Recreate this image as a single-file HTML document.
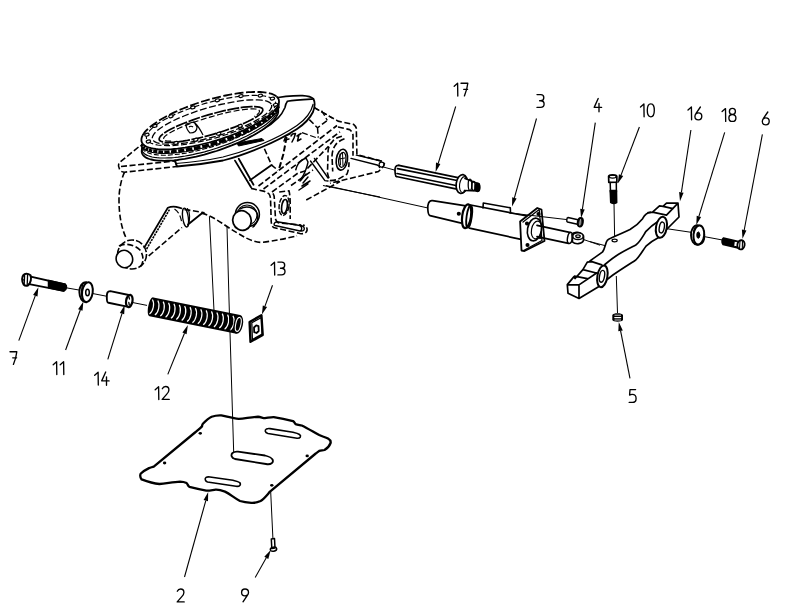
<!DOCTYPE html>
<html><head><meta charset="utf-8"><style>html,body{margin:0;padding:0;background:#fff;width:800px;height:612px;overflow:hidden}svg{display:block}</style></head>
<body><svg width="800" height="612" viewBox="0 0 800 612">
<rect width="800" height="612" fill="#fff"/>
<path fill="none" stroke="#000" stroke-width="1.6" stroke-dasharray="6 2.6" stroke-linejoin="round" d="M138.5,147 L119,163 C118,165 118.5,168 120,170 C121,171.5 122,172 124.5,172.2 L177,166.5"/>
<path fill="none" stroke="#000" stroke-width="1.6" stroke-dasharray="6 2.6" stroke-linejoin="round" d="M121,166.5 L175,161"/>
<path fill="none" stroke="#000" stroke-width="1.6" stroke-dasharray="6 2.6" stroke-linejoin="round" d="M124.5,172.2 C121,180 119,190 119,200 C119,215 121.5,228 125.7,237"/>
<circle cx="132" cy="254.5" r="14.5" fill="none" stroke="#000" stroke-width="1.6" stroke-dasharray="7 2" stroke-linejoin="round"/>
<path fill="none" stroke="#000" stroke-width="1.6" stroke-dasharray="6 2.6" stroke-linejoin="round" d="M119,246 C124,243 134,244 140,250 C144,256 144,263 140,267"/>
<ellipse cx="124.4" cy="259" rx="8.2" ry="8.8" transform="rotate(-20 124.4 259)" fill="#fff" stroke="#000" stroke-width="1.6"/>
<path fill="none" stroke="#000" stroke-width="1.7" stroke-linejoin="round" stroke-linecap="round" d="M144.3,247.5 L167.8,207.8 C171,206.5 174,206.5 176.2,206.9"/>
<path fill="none" stroke="#000" stroke-width="1.6" stroke-linejoin="round" stroke-linecap="butt" stroke-dasharray="2.2 0.9" d="M146.6,249 L169.5,209.5"/>
<path fill="none" stroke="#000" stroke-width="1.6" stroke-dasharray="6 2.6" stroke-linejoin="round" d="M148.7,255.9 L182,227.5"/>
<path fill="none" stroke="#000" stroke-width="1.6" stroke-dasharray="6 2.6" stroke-linejoin="round" d="M176.2,206.9 C179,207.5 181.5,208.3 184,209.3 L204.6,212.7"/>
<path fill="none" stroke="#000" stroke-width="1.2" stroke-dasharray="6 2.6" stroke-linejoin="round" d="M174.5,209 C179,212 181,217 182,224"/>
<ellipse cx="185.5" cy="217.6" rx="2.8" ry="9.5" transform="rotate(-8 185.5 217.6)" fill="none" stroke="#000" stroke-width="1.3"/>
<path fill="none" stroke="#000" stroke-width="1.1" stroke-linejoin="round" stroke-linecap="round" d="M187.5,208.5 C190,212 190.5,220 188,226"/>
<path fill="none" stroke="#000" stroke-width="1.8" stroke-linejoin="round" stroke-linecap="round" d="M188,224.5 L202.6,212.7"/>
<path fill="none" stroke="#000" stroke-width="1.6" stroke-dasharray="6 2.6" stroke-linejoin="round" d="M201.5,213.1 C210,215 217,220 224,224.5 C232,230 239,234 245.3,237.6 C250,240 255,242 261,242.4 C275,241 288,238 297,235.8"/>
<circle cx="247.4" cy="214.5" r="12" fill="none" stroke="#000" stroke-width="1.5"/>
<circle cx="247" cy="215" r="10" fill="none" stroke="#000" stroke-width="1.1"/>
<path fill="none" stroke="#000" stroke-width="1.5" stroke-linejoin="round" stroke-linecap="round" d="M240,209 C246,205 254,207 257,213 C259,218 257,224 253,227"/>
<ellipse cx="242" cy="220.5" rx="9.2" ry="10" transform="rotate(-20 242 220.5)" fill="#fff" stroke="#000" stroke-width="1.7"/>
<path fill="none" stroke="#000" stroke-width="1.8" stroke-linejoin="round" stroke-linecap="round" d="M235,160.6 L251,187.2 M238.75,158.75 L253.5,184.7 M250,180.2 L271.6,165.1"/>
<path fill="none" stroke="#000" stroke-width="1.6" stroke-dasharray="6 2.6" stroke-linejoin="round" d="M264.4,148.8 L271.6,165.1 L278.1,170.4"/>
<path fill="none" stroke="#000" stroke-width="2" stroke-dasharray="6 2.6" stroke-linejoin="round" d="M286.6,137 L283.4,154 L278.8,169.7"/>
<path fill="none" stroke="#000" stroke-width="1.6" stroke-dasharray="6 2.6" stroke-linejoin="round" d="M251,188.4 L264.5,191.4 C267,192.5 269,193.5 269.4,194.5 C270.5,197 270.6,199 270.6,200.6 L271.2,221.5 C271.5,224 272,226 273.5,227.5 L300,233.5 C303.5,234.2 306.5,233 307,230.5 C307.5,228 306,226 303,225"/>
<path fill="none" stroke="#000" stroke-width="1.6" stroke-dasharray="6 2.6" stroke-linejoin="round" d="M273,193.3 C274,195 274.3,196.5 274.3,198.2 L275.5,219 C276,221 277,222 278,222.7 L301.3,225.1"/>
<path fill="none" stroke="#000" stroke-width="1.6" stroke-dasharray="6 2.6" stroke-linejoin="round" d="M279.2,192 L289,190.8 C290,195 290.2,200 290.2,205 L290.2,219"/>
<path fill="none" stroke="#000" stroke-width="1.4" stroke-linejoin="round" stroke-linecap="round" d="M277,221.8 L301.5,225.8 C304,226.3 305,228.5 303.8,230.2 C303,231 301.5,231.3 300,231 L275,225.5 C273.5,225 273.5,222.5 277,221.8 M299.5,225.5 C302,226.5 302.5,229 300.5,231"/>
<ellipse cx="284.1" cy="205.5" rx="4.9" ry="10" transform="rotate(8 284.1 205.5)" fill="none" stroke="#000" stroke-width="1.4" stroke-dasharray="5 1.5"/>
<ellipse cx="284.5" cy="206.5" rx="2.8" ry="7" transform="rotate(8 284.5 206.5)" fill="none" stroke="#000" stroke-width="1.6"/>
<path fill="none" stroke="#000" stroke-width="1.5" stroke-linejoin="round" stroke-linecap="round" d="M284,141 L286,135.5 L290,134 M285,140 L289,139 M291,136 L292.5,134 L295.5,133.5 L294,138 L292,142 M297,136 L301,133.5 M299,134.5 L297.5,141 L301,139"/>
<path fill="none" stroke="#000" stroke-width="1.3" stroke-dasharray="6 2.6" stroke-linejoin="round" d="M302,132.7 L309.3,135.2 L318.3,138.4"/>
<path fill="none" stroke="#000" stroke-width="1.5" stroke-dasharray="6 2.6" stroke-linejoin="round" d="M309.3,119.6 L317.5,127.8 L327.3,120.4 M317.5,127.8 L318.3,137.6"/>
<path fill="none" stroke="#000" stroke-width="1.3" stroke-dasharray="6 2.6" stroke-linejoin="round" d="M314.2,107.4 L332.2,118 M321.6,110.6 L327.3,120.4"/>
<path fill="none" stroke="#000" stroke-width="1.5" stroke-linejoin="round" stroke-linecap="round" d="M295.8,169.7 C297,165 299,162 302,160 L306,158 L308,162 C307,168 305,172 303,176 L300,181"/>
<path fill="none" stroke="#000" stroke-width="1.5" stroke-linejoin="round" stroke-linecap="round" d="M301,180 L306,174 M303,183 L308,177 M302,186 L310,181 M299,190 L308,184"/>
<path fill="none" stroke="#000" stroke-width="1.6" stroke-dasharray="6 2.6" stroke-linejoin="round" d="M258.5,186 L337,125.5"/>
<path fill="none" stroke="#000" stroke-width="1.6" stroke-dasharray="6 2.6" stroke-linejoin="round" d="M263.5,189 L340,131.8"/>
<path fill="none" stroke="#000" stroke-width="1.6" stroke-dasharray="6 2.6" stroke-linejoin="round" d="M272,192 L298,173 L305,171 L328.5,146.2"/>
<path fill="none" stroke="#000" stroke-width="1.6" stroke-dasharray="6 2.6" stroke-linejoin="round" d="M291,185.5 L313,170"/>
<path fill="none" stroke="#000" stroke-width="1.6" stroke-dasharray="6 2.6" stroke-linejoin="round" d="M306.25,200 L340,181.5"/>
<path fill="none" stroke="#000" stroke-width="1.1" d="M323,185.5 L380,197"/>
<path fill="none" stroke="#000" stroke-width="1.6" stroke-dasharray="6 2.6" stroke-linejoin="round" d="M313.7,107.4 L338,121.1 L353.6,124.4 C355,125.5 356,127 356.3,128.3 L356.9,154.5 L381.1,161 C383,162 384.2,163 384.4,163.6 C384,165.5 383.5,166.5 382.4,167.6 L378.5,171.5 L330,183.3"/>
<path fill="none" stroke="#000" stroke-width="1.6" stroke-dasharray="6 2.6" stroke-linejoin="round" d="M338,127 L349.7,129.6 C351.5,131 352.5,133 353,134.9 L353,155.8"/>
<path fill="none" stroke="#000" stroke-width="1.4" stroke-linejoin="round" stroke-linecap="round" d="M351,158.4 L377.2,165 C378.5,165.5 379.5,166.5 379.5,167.5 M356.3,155.1 L381.1,161"/>
<path fill="none" stroke="#000" stroke-width="1.6" stroke-dasharray="6 2.6" stroke-linejoin="round" d="M341.9,136.2 C337,137.5 334,139 332.7,141.4 C330,144 328.5,147 328.1,150.6 L327.5,172.8 C328,176 329,178.5 330,180.6 C333,180.5 336,180 338,179.3 L347,174.1 C348.5,170 349,166 349,162.3"/>
<path fill="none" stroke="#000" stroke-width="1.6" stroke-dasharray="6 2.6" stroke-linejoin="round" d="M344.5,138.8 C340,140.5 337,142.5 335.3,145.3 C333,148.5 332.3,152 332,155.8 L332.7,171.5"/>
<path fill="none" stroke="#000" stroke-width="1.4" stroke-linejoin="round" stroke-linecap="round" d="M310.5,161 L324.9,180.6 L328,181 M314.4,158.4 L328.1,178"/>
<ellipse cx="341.9" cy="159.7" rx="5.6" ry="10.5" transform="rotate(8 341.9 159.7)" fill="#fff" stroke="#000" stroke-width="1.6"/>
<ellipse cx="342.3" cy="159.9" rx="3.6" ry="7.5" transform="rotate(8 342.3 159.9)" fill="none" stroke="#000" stroke-width="1.3"/>
<path fill="none" stroke="#000" stroke-width="1" stroke-linejoin="round" stroke-linecap="round" d="M340,154 L340.5,165 M342.5,153 L343,166 M339,159 L345,158"/>
<circle cx="381.6" cy="164.6" r="2.5" fill="none" stroke="#000" stroke-width="1.2"/>
<path d="M270,99 C280,97 292,95.5 302.5,95.7 C308,96 311.5,97 313.5,99 C315,102 314.5,108 313,112 C309,120 303,125 297,129 C286,136 274,142 262,147 C250,152 237,157 223,160.5 C207,163.5 190,165.5 177,166.5 L175,161 L200,150 L250,120 Z" fill="#fff" stroke="#000" stroke-width="1.8" stroke-linejoin="round"/>
<path d="M313.2,104 C311,113 305,120 297,125.5 C286,133 274,139 262,144 C250,149 237,153.5 223,157 C207,160.5 195,162 176,163.5" fill="none" stroke="#000" stroke-width="1.2"/>
<path d="M313.5,99 C305,99.5 295,100 287.4,101.3 C285.5,104 285.3,106 285,107.5 C283,112 281,115 278.4,117.6 C274,122 269,126 263.75,128.9 C255,134 246,139 237,143" fill="none" stroke="#000" stroke-width="1.6"/>
<path d="M237,143 L262,138.5 L264,140.5 L238.5,146 Z" fill="#000" stroke="#000" stroke-width="1"/>
<path d="M175,161 L177,166.5" fill="none" stroke="#000" stroke-width="1.5"/>
<path d="M275.2,105.2 L276.3,106.2 L277.1,107.2 L277.8,108.3 L278.2,109.5 L278.3,110.7 L278.2,112.1 L277.9,113.5 L277.3,114.9 L276.5,116.4 L275.5,118.0 L274.2,119.6 L272.7,121.3 L271.0,122.9 L269.1,124.7 L266.9,126.4 L264.6,128.2 L262.1,129.9 L259.3,131.7 L256.5,133.4 L253.4,135.2 L250.2,136.9 L246.9,138.7 L243.4,140.4 L239.8,142.0 L236.1,143.6 L232.3,145.2 L228.4,146.7 L224.5,148.2 L220.5,149.6 L216.5,151.0 L212.4,152.2 L208.4,153.4 L204.3,154.6 L200.3,155.6 L196.3,156.6 L192.4,157.4 L188.5,158.2 L184.7,158.9 L181.0,159.4 L177.4,159.9 L173.9,160.3 L170.5,160.6 L167.2,160.7 L164.2,160.8 L161.2,160.7 L158.5,160.6 L155.9,160.3 L153.5,160.0 L151.4,159.5 L149.4,159.0 L147.6,158.3 L146.1,157.6 L144.8,156.7 L143.7,155.8 L142.8,154.8 L142.2,153.6 L141.8,152.5 L141.7,151.2 L141.8,149.9 L142.1,148.5 Z" fill="#fff" stroke="none"/>
<path d="M275.2,105.2 L276.3,106.2 L277.1,107.2 L277.8,108.3 L278.2,109.5 L278.3,110.7 L278.2,112.1 L277.9,113.5 L277.3,114.9 L276.5,116.4 L275.5,118.0 L274.2,119.6 L272.7,121.3 L271.0,122.9 L269.1,124.7 L266.9,126.4 L264.6,128.2 L262.1,129.9 L259.3,131.7 L256.5,133.4 L253.4,135.2 L250.2,136.9 L246.9,138.7 L243.4,140.4 L239.8,142.0 L236.1,143.6 L232.3,145.2 L228.4,146.7 L224.5,148.2 L220.5,149.6 L216.5,151.0 L212.4,152.2 L208.4,153.4 L204.3,154.6 L200.3,155.6 L196.3,156.6 L192.4,157.4 L188.5,158.2 L184.7,158.9 L181.0,159.4 L177.4,159.9 L173.9,160.3 L170.5,160.6 L167.2,160.7 L164.2,160.8 L161.2,160.7 L158.5,160.6 L155.9,160.3 L153.5,160.0 L151.4,159.5 L149.4,159.0 L147.6,158.3 L146.1,157.6 L144.8,156.7 L143.7,155.8 L142.8,154.8 L142.2,153.6 L141.8,152.5 L141.7,151.2 L141.8,149.9 L142.1,148.5" fill="none" stroke="#000" stroke-width="1.8"/>
<path d="M275.8,103.0 L276.8,104.0 L277.5,105.0 L278.0,106.2 L278.3,107.4 L278.3,108.6 L278.1,110.0 L277.7,111.4 L277.0,112.8 L276.1,114.3 L275.0,115.9 L273.7,117.5 L272.1,119.1 L270.4,120.8 L268.4,122.5 L266.3,124.2 L263.9,125.9 L261.4,127.6 L258.7,129.3 L255.8,131.1 L252.8,132.8 L249.6,134.5 L246.3,136.2 L242.9,137.8 L239.4,139.5 L235.7,141.0 L232.0,142.6 L228.2,144.1 L224.3,145.5 L220.4,146.9 L216.5,148.2 L212.5,149.5 L208.6,150.7 L204.6,151.8 L200.6,152.8 L196.7,153.7 L192.8,154.6 L189.0,155.3 L185.3,156.0 L181.6,156.6 L178.1,157.1 L174.6,157.5 L171.3,157.8 L168.1,157.9 L165.0,158.0 L162.1,158.0 L159.3,157.9 L156.8,157.7 L154.4,157.4 L152.1,157.0 L150.1,156.4 L148.3,155.8 L146.7,155.1 L145.3,154.4 L144.2,153.5 L143.2,152.5 L142.5,151.5 L142.0,150.3 L141.7,149.1 L141.7,147.9 L141.9,146.5" fill="none" stroke="#000" stroke-width="1.2"/>
<path d="M276.4,100.7 L277.2,101.7 L277.8,102.8 L278.2,103.9 L278.3,105.2 L278.2,106.4 L277.9,107.8 L277.4,109.2 L276.6,110.6 L275.7,112.1 L274.5,113.7 L273.1,115.2 L271.5,116.8 L269.7,118.5 L267.8,120.1 L265.6,121.8 L263.2,123.5 L260.7,125.2 L258.0,126.9 L255.2,128.6 L252.2,130.3 L249.0,132.0 L245.8,133.6 L242.4,135.2 L238.9,136.8 L235.4,138.4 L231.7,139.9 L228.0,141.3 L224.2,142.7 L220.4,144.1 L216.5,145.4 L212.6,146.6 L208.7,147.8 L204.8,148.8 L200.9,149.9 L197.1,150.8 L193.3,151.6 L189.6,152.4 L185.9,153.1 L182.3,153.6 L178.8,154.1 L175.3,154.5 L172.1,154.8 L168.9,155.1 L165.8,155.2 L162.9,155.2 L160.2,155.1 L157.6,154.9 L155.2,154.6 L153.0,154.3 L150.9,153.8 L149.1,153.3 L147.4,152.6 L145.9,151.9 L144.7,151.1 L143.7,150.2 L142.8,149.2 L142.2,148.1 L141.9,147.0 L141.7,145.8 L141.8,144.5" fill="none" stroke="#000" stroke-width="1.1" stroke-dasharray="5 2"/>
<path d="M278.5,106.2 L278.2,106.8 L278.0,107.4 L277.7,108.0 L277.3,108.6 M276.9,109.3 L276.5,109.9 L276.1,110.5 L275.6,111.2 L275.0,111.8 M274.4,112.5 L273.8,113.2 L273.2,113.8 L272.5,114.5 L271.7,115.2 M271.0,115.9 L270.1,116.6 L269.3,117.3 L268.4,118.0 L267.5,118.7 M266.6,119.4 L265.6,120.1 L264.6,120.8 L263.5,121.5 L262.5,122.2 M261.3,122.9 L260.2,123.6 L259.0,124.4 L257.8,125.1 L256.6,125.8 M255.3,126.5 L254.1,127.2 L252.8,127.9 L251.4,128.6 L250.1,129.3 M248.7,130.0 L247.3,130.7 L245.8,131.3 L244.4,132.0 L242.9,132.7 M241.4,133.4 L239.9,134.0 L238.4,134.7 L236.9,135.3 L235.3,136.0 M233.7,136.6 L232.1,137.2 L230.5,137.8 L228.9,138.4 L227.3,139.0 M225.6,139.6 L224.0,140.2 L222.4,140.8 L220.7,141.3 L219.0,141.9 M217.3,142.4 L215.7,142.9 L214.0,143.4 L212.3,143.9 L210.6,144.4 M208.9,144.9 L207.3,145.3 L205.6,145.8 L203.9,146.2 L202.2,146.6 M200.5,147.0 L198.9,147.4 L197.2,147.8 L195.6,148.2 L193.9,148.5 M192.3,148.8 L190.7,149.2 L189.1,149.5 L187.5,149.7 L185.9,150.0 M184.3,150.3 L182.7,150.5 L181.2,150.7 L179.7,150.9 L178.2,151.1 M176.7,151.3 L175.2,151.4 L173.8,151.5 L172.4,151.7 L171.0,151.8 M169.6,151.8 L168.2,151.9 L166.9,152.0 L165.6,152.0 L164.3,152.0 M163.1,152.0 L161.9,152.0 L160.7,151.9 L159.5,151.9 L158.4,151.8 M157.3,151.7 L156.2,151.6 L155.2,151.5 L154.2,151.3 L153.2,151.2 M152.2,151.0 L151.3,150.8 L150.5,150.6 L149.6,150.4 L148.8,150.1 M148.1,149.9 L147.4,149.6 L146.7,149.3 L146.0,149.0 L145.4,148.7 M144.8,148.3 L144.3,148.0 L143.8,147.6 L143.4,147.2 L143.0,146.8 M142.6,146.4 L142.2,146.0 L142.0,145.6 L141.7,145.1 L141.5,144.6" fill="none" stroke="#000" stroke-width="3.2"/>
<path d="M278.0,102.1 L278.5,103.1 L278.9,104.2 L279.0,105.3 L279.0,106.6 L278.7,107.8 L278.2,109.1 L277.5,110.5 L276.6,111.9 L275.5,113.3 L274.2,114.8 L272.7,116.3 L271.0,117.8 L269.1,119.4 L267.1,121.0 L264.8,122.6 L262.4,124.1 L259.9,125.7 L257.2,127.3 L254.3,128.9 L251.3,130.5 L248.2,132.0 L245.0,133.5 L241.6,135.0 L238.2,136.5 L234.7,137.9 L231.1,139.3 L227.5,140.7 L223.7,142.0 L220.0,143.2 L216.2,144.4 L212.4,145.5 L208.6,146.6 L204.8,147.6 L201.0,148.5 L197.3,149.4 L193.6,150.2 L189.9,150.9 L186.3,151.5 L182.8,152.0 L179.3,152.5 L176.0,152.8 L172.7,153.1 L169.6,153.3 L166.6,153.4 L163.7,153.5 L161.0,153.4 L158.4,153.2 L156.0,153.0 L153.7,152.7 L151.6,152.3 L149.7,151.8 L148.0,151.2 L146.5,150.5 L145.1,149.8 L144.0,149.0 L143.0,148.1 L142.3,147.1 L141.8,146.1 L141.5,145.0 L141.4,143.9" fill="none" stroke="#000" stroke-width="1.1"/>
<path d="M278.8,99.7 L279.0,101.9 L278.5,104.3 L277.3,106.9 L275.3,109.6 L272.6,112.4 L269.2,115.3 L265.2,118.3 L260.6,121.3 L255.4,124.3 L249.7,127.3 L243.6,130.2 L237.1,133.0 L230.3,135.6 L223.4,138.1 L216.2,140.4 L209.0,142.5 L201.8,144.3 L194.7,145.9 L187.8,147.2 L181.1,148.2 L174.8,149.0 L168.8,149.4 L163.3,149.5 L158.3,149.2 L153.8,148.7 L150.0,147.9 L146.9,146.7 L144.4,145.3 L142.6,143.6 L141.6,141.7 L141.4,139.5 L141.9,137.1 L143.1,134.5 L145.1,131.8 L147.8,129.0 L151.2,126.1 L155.2,123.1 L159.8,120.1 L165.0,117.1 L170.7,114.1 L176.8,111.2 L183.3,108.4 L190.1,105.8 L197.0,103.3 L204.2,101.0 L211.4,98.9 L218.6,97.1 L225.7,95.5 L232.6,94.2 L239.3,93.2 L245.6,92.4 L251.6,92.0 L257.1,91.9 L262.1,92.2 L266.6,92.7 L270.4,93.5 L273.5,94.7 L276.0,96.1 L277.8,97.8 L278.8,99.7 Z" fill="#fff" stroke="none"/>
<path d="M276.7,96.6 L277.6,97.6 L278.3,98.7 L278.8,99.8 L279.0,101.0 L279.0,102.3 L278.7,103.7 L278.2,105.1 L277.4,106.6 L276.5,108.1 L275.2,109.6 L273.8,111.2 L272.1,112.9 L270.2,114.5 L268.0,116.2 L265.7,117.9 L263.2,119.6 L260.5,121.4 L257.6,123.1 L254.5,124.8 L251.3,126.5 L248.0,128.1 L244.5,129.8 L240.8,131.4 L237.1,133.0 L233.3,134.5 L229.4,136.0 L225.4,137.4 L221.4,138.8 L217.3,140.1 L213.2,141.3 L209.1,142.5 L205.0,143.5 L200.9,144.5 L196.9,145.5 L192.9,146.3 L189.0,147.0 L185.1,147.7 L181.3,148.2 L177.6,148.7 L174.1,149.0 L170.7,149.3 L167.4,149.4 L164.2,149.5 L161.3,149.4 L158.5,149.3 L155.9,149.0 L153.4,148.6 L151.2,148.2 L149.2,147.6 L147.4,147.0 L145.8,146.2 L144.5,145.4 L143.4,144.5 L142.5,143.5 L141.9,142.4 L141.5,141.2 L141.4,140.0 L141.5,138.7 L141.8,137.3 L142.4,135.9" fill="none" stroke="#000" stroke-width="1.8"/>
<path d="M142.4,135.9 L143.0,134.7 L143.8,133.6 L144.6,132.4 L145.6,131.2 L146.8,130.0 L148.1,128.8 L149.5,127.5 L151.0,126.2 L152.6,125.0 L154.4,123.7 L156.3,122.4 L158.2,121.1 L160.3,119.8 L162.5,118.5 L164.8,117.2 L167.2,115.9 L169.6,114.7 L172.2,113.4 L174.8,112.1 L177.5,110.9 L180.3,109.7 L183.1,108.5 L186.0,107.4 L188.9,106.2 L191.9,105.1 L194.9,104.0 L197.9,103.0 L201.0,102.0 L204.1,101.0 L207.2,100.1 L210.3,99.2 L213.4,98.4 L216.5,97.6 L219.6,96.8 L222.6,96.1 L225.7,95.5 L228.7,94.9 L231.6,94.3 L234.6,93.8 L237.4,93.4 L240.3,93.0 L243.0,92.7 L245.7,92.4 L248.3,92.2 L250.9,92.1 L253.3,92.0 L255.7,91.9 L258.0,92.0 L260.2,92.0 L262.3,92.2 L264.2,92.4 L266.1,92.6 L267.9,92.9 L269.5,93.3 L271.0,93.7 L272.4,94.2 L273.7,94.7 L274.8,95.3 L275.8,95.9 L276.7,96.6" fill="none" stroke="#000" stroke-width="1.8" stroke-dasharray="9 2.5"/>
<path d="M275.5,102.3 L275.6,104.2 L275.1,106.3 L273.8,108.5 L271.9,110.9 L269.3,113.4 L266.0,115.9 L262.2,118.5 L257.8,121.2 L252.9,123.8 L247.5,126.4 L241.7,128.9 L235.6,131.3 L229.2,133.6 L222.6,135.8 L215.9,137.8 L209.1,139.6 L202.4,141.2 L195.7,142.6 L189.3,143.7 L183.0,144.6 L177.1,145.2 L171.5,145.6 L166.4,145.6 L161.7,145.4 L157.6,145.0 L154.1,144.2 L151.2,143.2 L149.0,141.9 L147.4,140.5 L146.5,138.7 L146.4,136.8 L146.9,134.7 L148.2,132.5 L150.1,130.1 L152.7,127.6 L156.0,125.1 L159.8,122.5 L164.2,119.8 L169.1,117.2 L174.5,114.6 L180.3,112.1 L186.4,109.7 L192.8,107.4 L199.4,105.2 L206.1,103.2 L212.9,101.4 L219.6,99.8 L226.3,98.4 L232.7,97.3 L239.0,96.4 L244.9,95.8 L250.5,95.4 L255.6,95.4 L260.3,95.6 L264.4,96.0 L267.9,96.8 L270.8,97.8 L273.0,99.1 L274.6,100.5 L275.5,102.3" fill="none" stroke="#000" stroke-width="1.2" stroke-dasharray="6 2.5"/>
<path d="M271.6,104.9 L271.7,106.5 L271.1,108.2 L269.9,110.1 L268.1,112.2 L265.7,114.3 L262.6,116.5 L259.0,118.8 L254.9,121.1 L250.3,123.5 L245.3,125.8 L240.0,128.0 L234.3,130.2 L228.4,132.4 L222.3,134.4 L216.1,136.2 L209.8,137.9 L203.6,139.5 L197.5,140.8 L191.5,141.9 L185.7,142.9 L180.3,143.6 L175.2,144.0 L170.4,144.2 L166.2,144.2 L162.4,143.9 L159.2,143.4 L156.6,142.6 L154.6,141.7 L153.2,140.5 L152.4,139.1 L152.3,137.5 L152.9,135.8 L154.1,133.9 L155.9,131.8 L158.3,129.7 L161.4,127.5 L165.0,125.2 L169.1,122.9 L173.7,120.5 L178.7,118.2 L184.0,116.0 L189.7,113.8 L195.6,111.6 L201.7,109.6 L207.9,107.8 L214.2,106.1 L220.4,104.5 L226.5,103.2 L232.5,102.1 L238.3,101.1 L243.7,100.4 L248.8,100.0 L253.6,99.8 L257.8,99.8 L261.6,100.1 L264.8,100.6 L267.4,101.4 L269.4,102.3 L270.8,103.5 L271.6,104.9" fill="none" stroke="#000" stroke-width="1.3" stroke-dasharray="7 2.5"/>
<path d="M262.8,109.3 L262.8,110.4 L262.3,111.7 L261.2,113.1 L259.5,114.6 L257.3,116.2 L254.6,117.9 L251.4,119.7 L247.8,121.5 L243.7,123.4 L239.3,125.2 L234.6,127.1 L229.7,128.9 L224.5,130.7 L219.2,132.5 L213.8,134.1 L208.4,135.6 L203.0,137.0 L197.7,138.3 L192.5,139.4 L187.5,140.4 L182.8,141.2 L178.4,141.8 L174.4,142.2 L170.7,142.4 L167.5,142.4 L164.8,142.2 L162.6,141.9 L160.9,141.3 L159.7,140.6 L159.2,139.7 L159.2,138.6 L159.7,137.3 L160.8,135.9 L162.5,134.4 L164.7,132.8 L167.4,131.1 L170.6,129.3 L174.2,127.5 L178.3,125.6 L182.7,123.8 L187.4,121.9 L192.3,120.1 L197.5,118.3 L202.8,116.5 L208.2,114.9 L213.6,113.4 L219.0,112.0 L224.3,110.7 L229.5,109.6 L234.5,108.6 L239.2,107.8 L243.6,107.2 L247.6,106.8 L251.3,106.6 L254.5,106.6 L257.2,106.8 L259.4,107.1 L261.1,107.7 L262.3,108.4 L262.8,109.3" fill="none" stroke="#000" stroke-width="1.7" stroke-dasharray="12 1.5"/>
<path d="M171.1,141.1 L169.4,141.1 L167.9,141.0 L166.6,140.9 L165.5,140.6 L164.7,140.3 L164.1,139.9 L163.7,139.5 L163.5,138.9 L163.6,138.3 L163.9,137.7 L164.4,136.9 L165.2,136.1 L166.2,135.3 L167.4,134.4 L168.8,133.5 L170.5,132.5 L172.3,131.5 L174.4,130.4 L176.6,129.3 L178.9,128.3 L181.5,127.1 L184.2,126.0 L187.0,124.9 L189.9,123.8 L193.0,122.6 L196.1,121.5 L199.3,120.4 L202.6,119.4 L205.9,118.3 L209.2,117.3 L212.6,116.4 L215.9,115.4 L219.2,114.5 L222.5,113.7 L225.8,112.9 L228.9,112.2 L232.0,111.6 L235.0,111.0 L237.8,110.4 L240.6,110.0 L243.2,109.6 L245.6,109.3 L247.9,109.1 L250.0,108.9 L251.9,108.9 L253.6,108.9 L255.1,109.0 L256.4,109.1 L257.5,109.4 L258.3,109.7 L258.9,110.1 L259.3,110.5 L259.5,111.1 L259.4,111.7 L259.1,112.3 L258.6,113.1 L257.8,113.9 L256.8,114.7 L255.6,115.6 L254.2,116.5" fill="none" stroke="#000" stroke-width="1.2" stroke-dasharray="6 2.5"/>
<path d="M186,124 L194,122 L197,127 C197,131 194,133 190,133 C188,131 186,128 186,124 Z M189,127 C190,126 192,126 193,127 M195,123 C198,126 201,131 203,135" fill="none" stroke="#000" stroke-width="1.2"/>
<g fill="#fff" stroke="#000" stroke-width="1.2"><ellipse cx="148.4" cy="141.5" rx="2.2" ry="1.4" transform="rotate(-16 148.4 141.5)"/><ellipse cx="146.9" cy="134.7" rx="2.2" ry="1.4" transform="rotate(-16 146.9 134.7)"/><ellipse cx="154.8" cy="125.9" rx="2.2" ry="1.4" transform="rotate(-16 154.8 125.9)"/><ellipse cx="170.9" cy="116.3" rx="2.2" ry="1.4" transform="rotate(-16 170.9 116.3)"/><ellipse cx="192.8" cy="107.4" rx="2.2" ry="1.4" transform="rotate(-16 192.8 107.4)"/><ellipse cx="217.4" cy="100.3" rx="2.2" ry="1.4" transform="rotate(-16 217.4 100.3)"/><ellipse cx="241.0" cy="96.1" rx="2.2" ry="1.4" transform="rotate(-16 241.0 96.1)"/><ellipse cx="260.3" cy="95.6" rx="2.2" ry="1.4" transform="rotate(-16 260.3 95.6)"/><ellipse cx="272.4" cy="98.6" rx="2.2" ry="1.4" transform="rotate(-16 272.4 98.6)"/><ellipse cx="275.5" cy="104.8" rx="2.2" ry="1.4" transform="rotate(-16 275.5 104.8)"/><ellipse cx="240.1" cy="125.9" rx="2.2" ry="1.4" transform="rotate(-16 240.1 125.9)"/><ellipse cx="218.7" cy="133.7" rx="2.2" ry="1.4" transform="rotate(-16 218.7 133.7)"/><ellipse cx="195.8" cy="139.7" rx="2.2" ry="1.4" transform="rotate(-16 195.8 139.7)"/><ellipse cx="175.9" cy="142.9" rx="2.2" ry="1.4" transform="rotate(-16 175.9 142.9)"/></g>
<g fill="none" stroke="#000" stroke-width="1.35" stroke-linecap="round" stroke-linejoin="round"><path transform="translate(454.00,83.00) scale(1.000)" d="M0.2,3.2 L3.6,0.2 L3.8,13"/><path transform="translate(461.00,83.00) scale(1.000)" d="M0,0.2 L6.8,0.2 C6.4,4.5 5.0,9 3.4,12.9 M2.7,6.3 L6.6,6.3"/></g>
<g fill="none" stroke="#000" stroke-width="1.35" stroke-linecap="round" stroke-linejoin="round"><path transform="translate(537.00,94.50) scale(1.000)" d="M0,0.1 L3.8,0.1 C5.8,0.1 6.8,1.4 6.8,3.2 C6.8,5.1 5.6,6.2 3.6,6.2 L2.6,6.2 M3.6,6.2 C5.9,6.2 7.1,7.6 7.1,9.6 C7.1,11.7 5.8,12.9 3.6,12.9 L0,12.9"/></g>
<g fill="none" stroke="#000" stroke-width="1.35" stroke-linecap="round" stroke-linejoin="round"><path transform="translate(594.00,98.50) scale(1.000)" d="M4.2,0 L0.2,8.9 L7.6,8.9 M5.0,4.8 L5.0,13.3"/></g>
<g fill="none" stroke="#000" stroke-width="1.35" stroke-linecap="round" stroke-linejoin="round"><path transform="translate(640.30,103.80) scale(1.000)" d="M0.2,3.2 L3.6,0.2 L3.8,13"/><path transform="translate(647.30,103.80) scale(1.000)" d="M3.5,0 C0.6,0 0,3.2 0,6.5 C0,9.8 0.6,13 3.5,13 C6.4,13 7,9.8 7,6.5 C7,3.2 6.4,0 3.5,0 Z"/></g>
<g fill="none" stroke="#000" stroke-width="1.35" stroke-linecap="round" stroke-linejoin="round"><path transform="translate(687.80,106.80) scale(1.000)" d="M0.2,3.2 L3.6,0.2 L3.8,13"/><path transform="translate(694.80,106.80) scale(1.000)" d="M5.6,0.2 L1.4,6.4 C0.5,7.7 0.1,8.6 0.1,9.6 C0.1,11.7 1.5,13 3.6,13 C5.7,13 7,11.7 7,9.5 C7,7.4 5.6,6.1 3.6,6.1 C2.7,6.1 2,6.4 1.4,6.9"/></g>
<g fill="none" stroke="#000" stroke-width="1.35" stroke-linecap="round" stroke-linejoin="round"><path transform="translate(721.90,108.40) scale(1.000)" d="M0.2,3.2 L3.6,0.2 L3.8,13"/><path transform="translate(728.90,108.40) scale(1.000)" d="M3.5,0 C1.5,0 0.5,1.3 0.5,3.1 C0.5,4.9 1.6,6.1 3.5,6.1 C5.4,6.1 6.5,4.9 6.5,3.1 C6.5,1.3 5.5,0 3.5,0 Z M3.5,6.1 C1.3,6.1 0,7.5 0,9.5 C0,11.6 1.3,13 3.5,13 C5.7,13 7,11.6 7,9.5 C7,7.5 5.7,6.1 3.5,6.1 Z"/></g>
<g fill="none" stroke="#000" stroke-width="1.35" stroke-linecap="round" stroke-linejoin="round"><path transform="translate(762.20,111.80) scale(1.000)" d="M5.6,0.2 L1.4,6.4 C0.5,7.7 0.1,8.6 0.1,9.6 C0.1,11.7 1.5,13 3.6,13 C5.7,13 7,11.7 7,9.5 C7,7.4 5.6,6.1 3.6,6.1 C2.7,6.1 2,6.4 1.4,6.9"/></g>
<g fill="none" stroke="#000" stroke-width="1.35" stroke-linecap="round" stroke-linejoin="round"><path transform="translate(270.90,262.00) scale(1.000)" d="M0.2,3.2 L3.6,0.2 L3.8,13"/><path transform="translate(277.90,262.00) scale(1.000)" d="M0,0.1 L3.8,0.1 C5.8,0.1 6.8,1.4 6.8,3.2 C6.8,5.1 5.6,6.2 3.6,6.2 L2.6,6.2 M3.6,6.2 C5.9,6.2 7.1,7.6 7.1,9.6 C7.1,11.7 5.8,12.9 3.6,12.9 L0,12.9"/></g>
<g fill="none" stroke="#000" stroke-width="1.35" stroke-linecap="round" stroke-linejoin="round"><path transform="translate(10.00,351.50) scale(1.000)" d="M0,0.2 L6.8,0.2 C6.4,4.5 5.0,9 3.4,12.9 M2.7,6.3 L6.6,6.3"/></g>
<g fill="none" stroke="#000" stroke-width="1.35" stroke-linecap="round" stroke-linejoin="round"><path transform="translate(53.00,361.50) scale(1.000)" d="M0.2,3.2 L3.6,0.2 L3.8,13"/><path transform="translate(60.00,361.50) scale(1.000)" d="M0.2,3.2 L3.6,0.2 L3.8,13"/></g>
<g fill="none" stroke="#000" stroke-width="1.35" stroke-linecap="round" stroke-linejoin="round"><path transform="translate(94.50,372.00) scale(1.000)" d="M0.2,3.2 L3.6,0.2 L3.8,13"/><path transform="translate(101.50,372.00) scale(1.000)" d="M4.2,0 L0.2,8.9 L7.6,8.9 M5.0,4.8 L5.0,13.3"/></g>
<g fill="none" stroke="#000" stroke-width="1.35" stroke-linecap="round" stroke-linejoin="round"><path transform="translate(155.00,386.50) scale(1.000)" d="M0.2,3.2 L3.6,0.2 L3.8,13"/><path transform="translate(162.00,386.50) scale(1.000)" d="M0.3,2.2 C1,0.6 2.2,0 3.6,0 C5.6,0 6.9,1.3 6.9,3.4 C6.9,5.2 6,6.4 4.6,7.9 L0.2,12.9 L7.2,12.9"/></g>
<g fill="none" stroke="#000" stroke-width="1.35" stroke-linecap="round" stroke-linejoin="round"><path transform="translate(629.00,389.50) scale(1.000)" d="M6.6,0.1 L1.0,0.1 L0.6,5.6 C1.3,5.1 2.2,4.9 3.2,4.9 C5.6,4.9 7.1,6.4 7.1,8.9 C7.1,11.5 5.6,12.9 3.3,12.9 L0.2,12.9"/></g>
<g fill="none" stroke="#000" stroke-width="1.35" stroke-linecap="round" stroke-linejoin="round"><path transform="translate(177.00,589.00) scale(1.000)" d="M0.3,2.2 C1,0.6 2.2,0 3.6,0 C5.6,0 6.9,1.3 6.9,3.4 C6.9,5.2 6,6.4 4.6,7.9 L0.2,12.9 L7.2,12.9"/></g>
<g fill="none" stroke="#000" stroke-width="1.35" stroke-linecap="round" stroke-linejoin="round"><path transform="translate(241.60,589.00) scale(1.000)" d="M1.4,12.8 L5.6,6.6 C6.5,5.3 6.9,4.4 6.9,3.4 C6.9,1.3 5.5,0 3.4,0 C1.3,0 0,1.3 0,3.5 C0,5.6 1.4,6.9 3.4,6.9 C4.3,6.9 5,6.6 5.6,6.1"/></g>
<line x1="455.7" y1="106.5" x2="438.2" y2="163.3" stroke="#000" stroke-width="1.1"/><path d="M435.6,171.9 L436.0,162.6 L440.4,164.0 Z" fill="#000"/>
<line x1="536.5" y1="118.5" x2="514.4" y2="197.8" stroke="#000" stroke-width="1.1"/><path d="M512.0,206.5 L512.2,197.2 L516.6,198.4 Z" fill="#000"/>
<line x1="595.3" y1="122.6" x2="582.4" y2="209.1" stroke="#000" stroke-width="1.1"/><path d="M581.1,218.0 L580.2,208.8 L584.7,209.4 Z" fill="#000"/>
<line x1="639.4" y1="127.0" x2="621.0" y2="175.1" stroke="#000" stroke-width="1.1"/><path d="M617.8,183.5 L618.9,174.3 L623.2,175.9 Z" fill="#000"/>
<line x1="690.9" y1="130.0" x2="681.4" y2="192.4" stroke="#000" stroke-width="1.1"/><path d="M680.0,201.3 L679.1,192.1 L683.6,192.8 Z" fill="#000"/>
<line x1="724.7" y1="132.4" x2="698.9" y2="216.4" stroke="#000" stroke-width="1.1"/><path d="M696.3,225.0 L696.7,215.7 L701.1,217.1 Z" fill="#000"/>
<line x1="762.4" y1="134.4" x2="744.2" y2="230.0" stroke="#000" stroke-width="1.1"/><path d="M742.5,238.8 L741.9,229.5 L746.4,230.4 Z" fill="#000"/>
<line x1="272.5" y1="285.2" x2="265.0" y2="306.1" stroke="#000" stroke-width="1.1"/><path d="M261.9,314.6 L262.8,305.4 L267.1,306.9 Z" fill="#000"/>
<line x1="18.8" y1="340.6" x2="35.3" y2="295.6" stroke="#000" stroke-width="1.1"/><path d="M38.4,287.2 L37.5,296.4 L33.1,294.9 Z" fill="#000"/>
<line x1="65.6" y1="350.0" x2="80.3" y2="310.0" stroke="#000" stroke-width="1.1"/><path d="M83.4,301.6 L82.5,310.8 L78.1,309.3 Z" fill="#000"/>
<line x1="107.8" y1="359.4" x2="122.0" y2="313.6" stroke="#000" stroke-width="1.1"/><path d="M124.7,305.0 L124.2,314.3 L119.8,312.9 Z" fill="#000"/>
<line x1="167.8" y1="374.4" x2="184.5" y2="333.3" stroke="#000" stroke-width="1.1"/><path d="M187.9,325.0 L186.6,334.2 L182.4,332.5 Z" fill="#000"/>
<line x1="630.0" y1="378.4" x2="620.6" y2="330.8" stroke="#000" stroke-width="1.1"/><path d="M618.8,322.0 L622.8,330.4 L618.3,331.3 Z" fill="#000"/>
<line x1="184.5" y1="577.0" x2="205.8" y2="500.6" stroke="#000" stroke-width="1.1"/><path d="M208.2,491.9 L208.0,501.2 L203.6,500.0 Z" fill="#000"/>
<line x1="255.2" y1="577.4" x2="266.3" y2="557.8" stroke="#000" stroke-width="1.1"/><path d="M270.7,550.0 L268.3,559.0 L264.3,556.7 Z" fill="#000"/>
<g stroke="#000" fill="none" stroke-width="1"><polyline points="66.7,287.9 80,290.2"/><polyline points="92.5,293.5 107,296.3"/><polyline points="131.9,302.4 147,305.4"/><polyline points="383.3,167 395.5,170.3"/><polyline points="326,185.5 428,208"/><polyline points="667.5,228.8 692.5,232.5"/><polyline points="702.5,236.3 722.5,240"/><polyline points="614,203 614.6,236"/><polyline points="616.3,276 617.5,313"/><polyline points="590,241.6 604.9,245.6"/><polyline points="270.7,491.9 272.9,538.2"/></g>
<g stroke="#000" fill="none" stroke-width="1.9" stroke-linejoin="round" stroke-linecap="round"><path d="M23.6,284.5 C21.5,281 21.8,276.8 23.5,275 C24.5,273.5 27.5,272.8 30.5,275.2 C32,278 30.5,283 28.2,285.3 C26.5,286 24.8,285.8 23.6,284.5 Z" stroke-width="2"/><path d="M24.6,275.5 L24.2,284 M27.6,274.6 L27.2,285.2 M22.5,279.8 L24.3,279.8" stroke-width="1.3"/><path d="M30.7,276.6 L65.2,284.5 M29.2,284.1 L63.7,290.9"/><path d="M48.7,280.6 L65.2,284.5 C66.8,285.5 67,289.5 63.7,290.9 L48.7,287.6 Z" fill="#000"/></g>
<g stroke="#000" fill="none" stroke-width="1.9" stroke-linejoin="round" stroke-linecap="round"><path d="M86.3,282.2 C82,282 79.3,287 79.4,292 C79.5,298 82.3,302.6 86.5,302.2" stroke-width="2"/><ellipse cx="87.4" cy="292.1" rx="5.3" ry="9.9" transform="rotate(8 87.4 292.1)" fill="#fff" stroke-width="2"/><path d="M82.5,285 C81.5,289 81.5,296 82.8,299.5" stroke-width="1.2"/><ellipse cx="87.5" cy="292.5" rx="1.8" ry="3.2" stroke-width="1.5"/></g>
<g stroke="#000" fill="none" stroke-width="1.9" stroke-linejoin="round" stroke-linecap="round"><path d="M110.3,291.1 L130,295.3 M108.4,302.8 L127.2,306.6 M110.3,291.1 C107.5,291 106.8,293 106.8,297 C106.8,301 107.5,302.8 108.4,302.8"/><ellipse cx="129.3" cy="301" rx="3.2" ry="6.2" transform="rotate(10 129.3 301)" fill="#fff" stroke-width="2.2"/><path d="M128.8,296.5 L129.5,299 M128.8,302.5 L129.3,305" stroke-width="1.3"/></g>
<g transform="translate(148.5,306.2) rotate(11.46)"><path d="M3,-9.6 L91.62576056983103,-9.6 L91.62576056983103,9.6 L3,9.6 C-1,9.6 -1.5,-9.6 3,-9.6 Z" fill="#000"/><path d="M2.50,-7.3999999999999995 C5.70,-4 5.70,4 2.50,7.3999999999999995" stroke="#fff" stroke-width="1.2" fill="none"/><path d="M7.98,-7.3999999999999995 C11.18,-4 11.18,4 7.98,7.3999999999999995" stroke="#fff" stroke-width="1.2" fill="none"/><path d="M13.45,-7.3999999999999995 C16.65,-4 16.65,4 13.45,7.3999999999999995" stroke="#fff" stroke-width="1.2" fill="none"/><path d="M18.93,-7.3999999999999995 C22.13,-4 22.13,4 18.93,7.3999999999999995" stroke="#fff" stroke-width="1.2" fill="none"/><path d="M24.41,-7.3999999999999995 C27.61,-4 27.61,4 24.41,7.3999999999999995" stroke="#fff" stroke-width="1.2" fill="none"/><path d="M29.88,-7.3999999999999995 C33.08,-4 33.08,4 29.88,7.3999999999999995" stroke="#fff" stroke-width="1.2" fill="none"/><path d="M35.36,-7.3999999999999995 C38.56,-4 38.56,4 35.36,7.3999999999999995" stroke="#fff" stroke-width="1.2" fill="none"/><path d="M40.84,-7.3999999999999995 C44.04,-4 44.04,4 40.84,7.3999999999999995" stroke="#fff" stroke-width="1.2" fill="none"/><path d="M46.31,-7.3999999999999995 C49.51,-4 49.51,4 46.31,7.3999999999999995" stroke="#fff" stroke-width="1.2" fill="none"/><path d="M51.79,-7.3999999999999995 C54.99,-4 54.99,4 51.79,7.3999999999999995" stroke="#fff" stroke-width="1.2" fill="none"/><path d="M57.27,-7.3999999999999995 C60.47,-4 60.47,4 57.27,7.3999999999999995" stroke="#fff" stroke-width="1.2" fill="none"/><path d="M62.74,-7.3999999999999995 C65.94,-4 65.94,4 62.74,7.3999999999999995" stroke="#fff" stroke-width="1.2" fill="none"/><path d="M68.22,-7.3999999999999995 C71.42,-4 71.42,4 68.22,7.3999999999999995" stroke="#fff" stroke-width="1.2" fill="none"/><path d="M73.70,-7.3999999999999995 C76.90,-4 76.90,4 73.70,7.3999999999999995" stroke="#fff" stroke-width="1.2" fill="none"/><path d="M79.17,-7.3999999999999995 C82.37,-4 82.37,4 79.17,7.3999999999999995" stroke="#fff" stroke-width="1.2" fill="none"/><path d="M84.65,-7.3999999999999995 C87.85,-4 87.85,4 84.65,7.3999999999999995" stroke="#fff" stroke-width="1.2" fill="none"/><path d="M90.13,-7.3999999999999995 C93.33,-4 93.33,4 90.13,7.3999999999999995" stroke="#fff" stroke-width="1.2" fill="none"/><ellipse cx="91.63" cy="0" rx="4.6" ry="9.6" fill="#000"/><ellipse cx="91.63" cy="0" rx="2.6" ry="7.1" fill="none" stroke="#fff" stroke-width="1.1"/></g>
<g stroke="#000" fill="none" stroke-width="2.4" stroke-linejoin="round" stroke-linecap="round"><path d="M249.6,322 L261.4,315.3 L262.7,335 L250.5,341.8 Z" fill="#fff"/><path d="M251.8,322.8 L261.5,317.5 L262.2,334 L252.4,339.5 Z" stroke-width="1.3"/><path d="M254,327.5 L256.2,325.4 L258.5,326.2 L258.7,331 L256.5,333 L254.2,332.2 Z" stroke-width="1.8"/></g>
<path d="M612.3,315 C613,312.8 622,312.8 623,315 L623,320 C622,322.3 613,322.3 612.3,320 Z" fill="#000"/>
<path d="M614.8,317.6 L620.6,317.6" stroke="#fff" stroke-width="1.3" stroke-linecap="round"/>
<path d="M614.5,315.2 L621,315.2 M614.5,320 L621,320" stroke="#fff" stroke-width="0.8"/>
<g stroke="#000" fill="none" stroke-width="2.3" stroke-linejoin="round" stroke-linecap="round"><path d="M202,426.4 C202,425 202.5,424.5 202.9,423.75 C206,420.5 209,418 211.6,416.75 C215,415.5 218,415.2 221.25,415.35 C227,416.5 233,418.5 238.75,418.85 C245,418.5 251,417 258,416.75 C261,417 263,418.2 265,418.15 C268,417.8 271,417 273.75,417.1 C280,418 287,419.5 293,421.1 C294.5,422 295,423.5 295.6,424.1 C297.5,424.8 299.5,425 301.75,425.5 C308,428.5 313.5,432 319.25,435.1 C322,436.5 325.5,437.2 328,438.6 C330,439.8 331,441.5 330.6,443 C329.5,446 327,448.5 324.5,450 C322.5,450.5 321,450.2 319.25,450.9 C318,451.8 317,452.8 315.75,453.5 L270,491.6 C267,495 264,499 260.6,501 C257.5,502.5 254.5,503 251.25,502.8 C247,502.5 243.5,502 240,501 C235,498.5 230,494 225,491.6 C222,490.5 219,489.5 215.6,489.7 C212.5,490 209.5,490.8 206.25,490.6 C200,489.5 195,488.3 189.4,486.9 C188,486 187.5,483.8 186.6,483.1 C184.5,482 182.5,481.6 180,481.6 C173,482 166,483.5 159.4,484 C153,483.5 147,481.5 141.6,479.4 C140,477.5 140,475.5 140.6,473.75 C143,471.5 146,469.5 149,468.1 C150.5,467.5 152,467.2 153.75,466.6 L195,432.5 C198,430 200,428.5 202,426.4 Z"/><path d="M266.5,428.9 C264.5,430 264.8,432.5 268,433.5 L297,438.2 C300.5,438.5 301.5,436 299.5,434.5 C298,433.5 296,433 293,432.3 L270,428.6 C268.5,428.4 267.5,428.5 266.5,428.9 Z" stroke-width="1.6"/><path d="M232.5,453 C230.5,455 231.5,457.8 235,459 L266,464 C271,465 274,462.5 272.5,459.5 C271.5,457.5 269,456.5 265,455.5 L238,451.7 C236,451.5 234,451.8 232.5,453 Z" stroke-width="1.8"/><path d="M206.1,477.4 C204.5,478.5 205,481 207.5,482 L236,486.3 C240,486.8 241.5,484 239.5,482.5 C238,481.2 236,481 233,480.3 L210,477 C208.5,476.8 207,476.9 206.1,477.4 Z" stroke-width="1.6"/></g>
<g fill="#000"><ellipse cx="200.3" cy="433.3" rx="1.7" ry="1.4"/><ellipse cx="164.6" cy="463" rx="1.7" ry="1.4"/><ellipse cx="307.2" cy="455.9" rx="1.7" ry="1.4"/><ellipse cx="271.8" cy="485.3" rx="1.7" ry="1.4"/></g>
<g stroke="#000" fill="none" stroke-width="1.5" stroke-linejoin="round" stroke-linecap="round"><path d="M271.3,539 L274.5,538.5 L275,548 L271.8,548.5 Z"/><ellipse cx="273.5" cy="549.2" rx="3.2" ry="2" transform="rotate(-10 273.5 549.2)"/></g>
<g stroke="#000" fill="none" stroke-width="1"><polyline points="209.4,216.3 214,311"/><polyline points="227,226.9 229,300 233.7,452.5"/></g>
<g stroke="#000" fill="none" stroke-width="1.7" stroke-linejoin="round" stroke-linecap="round"><path d="M398.8,165.4 L458,177.6 M396.3,176.5 L455.7,188.9 M397.5,168.6 L457,180.5 M397,173.5 L456,185.5"/><path d="M398.8,165.4 C395.5,165 394.8,168 395,171 C395.2,174 395.5,176.3 396.3,176.5"/><ellipse cx="461.8" cy="184" rx="5.6" ry="9.5" transform="rotate(8 461.8 184)" fill="#fff"/><ellipse cx="463.6" cy="184.6" rx="4.0" ry="8" transform="rotate(8 463.6 184.6)" stroke-width="1.1"/><path d="M465,178.5 L479,184 L478.5,191 L464.5,190.5" fill="#fff"/><ellipse cx="470" cy="184.8" rx="1.8" ry="5.6" stroke-width="1.3"/><ellipse cx="473.5" cy="186" rx="1.6" ry="4.5" stroke-width="1.3"/><ellipse cx="477.5" cy="187.3" rx="2.3" ry="4.0" fill="#000"/></g>
<g stroke="#000" fill="none" stroke-width="1.7" stroke-linejoin="round" stroke-linecap="round"><path d="M432.5,200.6 L464.4,205.6 M430,215.6 L461.3,223.1 M432.5,200.6 C428.5,200 427.5,205 427.8,209 C428,213 428.8,215.4 430,215.6"/><path d="M470.6,205 L527,216 M469.4,228.1 L521,239.4"/><path d="M483,208 L483.3,203 L510.3,207.8 L510.5,212.6" stroke-width="1.6"/><ellipse cx="466.6" cy="216.2" rx="4.4" ry="12.0" transform="rotate(8 466.6 216.2)" fill="#fff" stroke-width="2.2"/><ellipse cx="469.2" cy="216.6" rx="2.6" ry="11.2" transform="rotate(8 469.2 216.6)" stroke-width="1.8"/><circle cx="458.8" cy="213.8" r="1.2" fill="#000"/><path d="M520.1,221.5 L537.3,208 L541.5,209.5 L544.5,241 L524.5,251 L521.5,250.5 Z" fill="#fff" stroke-width="1.8"/><path d="M523,222 L539.2,209.6 L542,240.5 L524.5,250" stroke-width="1.3"/><circle cx="527" cy="223.5" r="1.2" fill="#000"/><circle cx="538.5" cy="214" r="1.2" fill="#000"/><circle cx="527.5" cy="245" r="1.2" fill="#000"/><circle cx="540" cy="237" r="1.2" fill="#000"/><ellipse cx="534.5" cy="229.5" rx="7" ry="11.5" transform="rotate(10 534.5 229.5)" fill="#fff" stroke-width="1.6"/><ellipse cx="536.5" cy="230" rx="5" ry="9" transform="rotate(10 536.5 230)" stroke-width="1.2"/><path d="M537,225.3 L570.8,232.6 M537,236.6 L568.5,243.3"/><ellipse cx="570" cy="238" rx="2.5" ry="5.5" transform="rotate(10 570 238)" fill="#fff" stroke-width="1.5"/><path d="M572,234.5 C574,231 581,232 583.5,236 L583.5,240.5 C582,244.5 575,244.5 572.5,242 Z" fill="#fff" stroke-width="1.7"/><ellipse cx="578" cy="236.2" rx="5.2" ry="3.4" fill="#fff" stroke-width="1.5"/><ellipse cx="578" cy="236.2" rx="2.2" ry="1.3" stroke-width="1.3"/></g>
<g stroke="#000" fill="none" stroke-width="1.5" stroke-linejoin="round" stroke-linecap="round"><path d="M568,217.4 L578,219.7 M567.4,221.9 L577.5,224.2 M568,217.4 C566.5,217.5 566.5,221.5 567.4,221.9"/><ellipse cx="580.3" cy="222.2" rx="2.5" ry="4.3" transform="rotate(10 580.3 222.2)" fill="#fff" stroke-width="2"/><path d="M579.2,219 L578.8,225 M581.3,219.3 L581,225.5" stroke-width="1.2"/></g>
<g stroke="#000" fill="none" stroke-width="1"><polyline points="509,212.8 567,219.6"/><polyline points="583.5,239.5 600,245.2"/></g>
<g stroke="#000" fill="none" stroke-width="1.7" stroke-linejoin="round" stroke-linecap="round"><path d="M567.5,284.4 L573.9,275.9 L586.6,261.9 L590,261 L602.6,251.9 L607.2,240.5 L610.6,238.2 L630,229.6 L642.6,218.7 L646,214.2 L659.6,205.8 L666.8,203.1 L677.6,203.1 L679,217.9 L666,230 L658.6,237.6 L646,246.2 L635.8,260 L612.9,275 L600.2,285.7 L579,298.4 L568,293.3 Z" fill="#fff" stroke="none"/><path d="M590,261 C595,257 600,254 602.6,251.9 C605,249 605.5,242.5 607.2,240.5 C608,239.2 609.5,238.6 610.6,238.2 C617,235.5 624,232.5 630,229.6 C636,226 640,222 642.6,218.7 C644,216 645,214.8 646,214.2 C647.5,213 649,212.6 650.6,212.4"/><path d="M604.9,264.5 C609,261 614,257 618.6,254.2 C624,251 630,248 635.8,245 C640,242 643,236 646,231.3 C650,227 654,224 658.6,221"/><path d="M600.2,285.7 C604,282 608,278.5 612.9,275 C620,270 628,265 635.8,260 C640,256 643,250 646,246.2 C650,242.5 654,240 658.6,237.6"/><path d="M648,212.5 L652.5,212.2 L666.5,215.2 L678,203.2 L666.5,203.2 L663,206.3 L659.5,205.8 L652.5,212.2 M663,206.3 L673,208.6 M678,203.2 L679,217 L666,230"/><path d="M567.3,284.6 L579,284.9 L579,298.4 L568,293.3 Z M567.3,284.6 L574,276.6 L575.1,278.5 L582.9,269.6 L587.3,262.1 L591.8,261.6 L601.8,264.9 M574.5,276.2 L587.3,278.6 M582.9,269.6 L597.3,273.2 M579,284.9 L597,272.8 M579,298.4 L600.2,285.7"/><ellipse cx="661.4" cy="227.3" rx="5.4" ry="10.6" transform="rotate(10 661.4 227.3)" fill="#fff" stroke-width="2"/><ellipse cx="661.8" cy="227.5" rx="2.5" ry="5.5" transform="rotate(10 661.8 227.5)" stroke-width="1.4"/><ellipse cx="602.4" cy="276.3" rx="5" ry="11" transform="rotate(10 602.4 276.3)" fill="#fff" stroke-width="2"/><ellipse cx="602" cy="276.3" rx="2.5" ry="6" transform="rotate(10 602 276.3)" stroke-width="1.4"/><ellipse cx="614.6" cy="240.5" rx="2.6" ry="1.3" stroke-width="1.2"/></g>
<g stroke="#000" fill="none" stroke-width="1.7" stroke-linejoin="round" stroke-linecap="round"><path d="M608.6,176.2 C609,174.3 616.4,174.3 616.8,176.2 L616.9,182.2 L608.8,182.4 Z" fill="#fff"/><ellipse cx="612.7" cy="176.6" rx="3.6" ry="1.5" stroke-width="1.3"/><path d="M610.2,182.4 L610.5,192 M616.3,182.2 L616.4,192" stroke-width="1.5"/><path d="M610.3,190.5 L616.4,190.5 L616.6,202.5 C615,203.6 611.8,203.6 610.8,202.5 Z" fill="#000"/></g>
<g stroke="#000" fill="none" stroke-width="1.9" stroke-linejoin="round" stroke-linecap="round"><path d="M697.5,225.3 C693,225.5 690.8,230.5 691,235.5 C691.2,240.5 693.5,245 697.5,244.8 L699,244.6 C703,244 704.5,239.5 704.3,234.8 C704,229.5 701.5,225.2 697.5,225.3 Z" fill="#fff"/><ellipse cx="698.8" cy="235" rx="5.3" ry="9.6" transform="rotate(6 698.8 235)" fill="#fff"/><path d="M694.5,228 C693.2,231 693,238 694.5,242" stroke-width="1.1"/><ellipse cx="698.3" cy="235.1" rx="1.5" ry="3.2" fill="#000" stroke-width="1"/></g>
<g stroke="#000" fill="none" stroke-width="1.6" stroke-linejoin="round" stroke-linecap="round"><path d="M723.5,238 L738.5,241.5 L738,248 L723,244.5 C721.5,243 721.8,239 723.5,238 Z" fill="#000"/><path d="M734.5,241.2 L738.5,242 L738,247 L734,246.2 Z" fill="#fff" stroke-width="1"/><ellipse cx="741" cy="244.8" rx="3.6" ry="4.6" transform="rotate(10 741 244.8)" fill="#fff" stroke-width="1.9"/><path d="M740,240.8 L739.5,248.8 M742.5,241 L742.3,249" stroke-width="1.1"/></g>
</svg></body></html>
